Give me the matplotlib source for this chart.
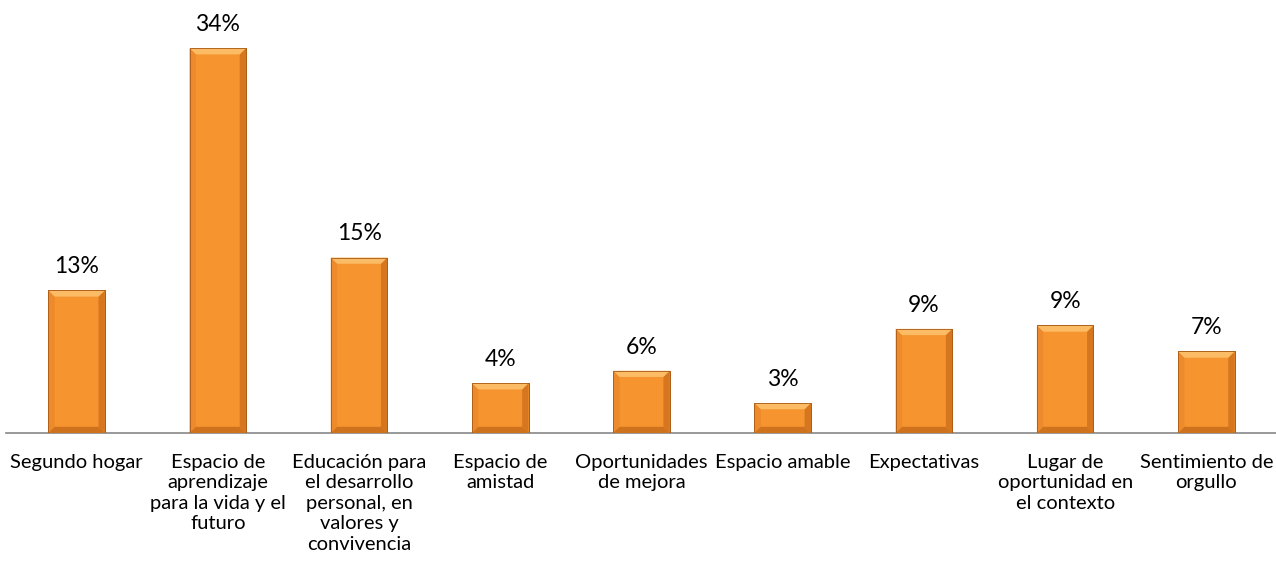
import numpy as np
import matplotlib
matplotlib.use('Agg')
import matplotlib.pyplot as plt
from matplotlib.patches import Polygon

plt.rcParams['font.family'] = ['Lato', 'DejaVu Sans']

# Datos del grafico
categorias = ['Segundo hogar',
              'Espacio de\naprendizaje\npara la vida y el\nfuturo',
              'Educación para\nel desarrollo\npersonal, en\nvalores y\nconvivencia',
              'Espacio de\namistad',
              'Oportunidades\nde mejora',
              'Espacio amable',
              'Expectativas',
              'Lugar de\noportunidad en\nel contexto',
              'Sentimiento de\norgullo']
valores = [12.6, 34.0, 15.5, 4.4, 5.5, 2.65, 9.2, 9.5, 7.2]
etiquetas = ['13%', '34%', '15%', '4%', '6%', '3%', '9%', '9%', '7%']

fig = plt.figure(figsize=(12.76, 5.74), dpi=100)
ax = fig.add_axes([6/1276, 141/574, 1271/1276, 433/574])

x = np.arange(len(valores))
ancho = 0.40
barras = ax.bar(x, valores, width=ancho, color='#F6952F', edgecolor='#B8651C',
                linewidth=0.6, zorder=2)

ax.set_xlim(-0.5, len(valores) - 0.5)
ax.set_ylim(0, 38.25)

# efecto de bisel sobre cada barra
bx = 0.045  # ancho del bisel en x (datos)
by = 0.55   # alto del bisel en y (datos)
for b in barras:
    x0, y0 = b.get_x(), b.get_y()
    x1, y1 = x0 + b.get_width(), y0 + b.get_height()
    h = min(by, (y1 - y0) / 2)
    superior = [(x0, y1), (x1, y1), (x1 - bx, y1 - h), (x0 + bx, y1 - h)]
    inferior = [(x0, y0), (x1, y0), (x1 - bx, y0 + h), (x0 + bx, y0 + h)]
    izq = [(x0, y0), (x0, y1), (x0 + bx, y1 - h), (x0 + bx, y0 + h)]
    der = [(x1, y0), (x1, y1), (x1 - bx, y1 - h), (x1 - bx, y0 + h)]
    ax.add_patch(Polygon(izq, closed=True, color='#EC8A2C', lw=0, zorder=3))
    ax.add_patch(Polygon(der, closed=True, color='#D6761F', lw=0, zorder=3))
    ax.add_patch(Polygon(superior, closed=True, color='#FCBC66', lw=0, zorder=3))
    ax.add_patch(Polygon(inferior, closed=True, color='#CF721E', lw=0, zorder=3))
    ax.add_patch(plt.Rectangle((x0, y0), x1 - x0, y1 - y0, fill=False,
                               edgecolor='#A85A16', lw=0.6, zorder=4))

for xi, v, t in zip(x, valores, etiquetas):
    ax.annotate(t, (xi, v), xytext=(0, 9.5), textcoords='offset points',
                ha='center', va='bottom', fontsize=16.5, color='#000000')

ax.set_xticks(x)
ax.set_xticklabels(categorias, fontsize=14.5, linespacing=1.25)
ax.tick_params(axis='x', length=0, pad=15)
ax.set_yticks([])
for lado in ['left', 'right', 'top']:
    ax.spines[lado].set_visible(False)
ax.spines['bottom'].set_color('#888888')
ax.spines['bottom'].set_linewidth(1.2)

fig.savefig('out.png', dpi=100)
